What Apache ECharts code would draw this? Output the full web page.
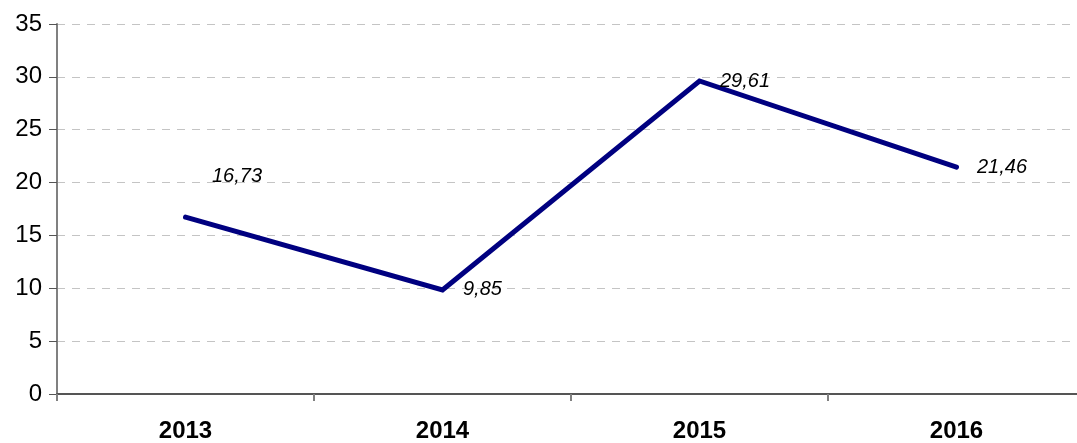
<!DOCTYPE html>
<html>
<head>
<meta charset="utf-8">
<script src="https://cdn.jsdelivr.net/npm/echarts@6/dist/echarts.min.js"></script>
<style>
  html, body { margin: 0; padding: 0; background: #fff; overflow: hidden; }
  /* plot area runs a little past the right edge of the window, as in the original */
  #chart { width: 1085px; height: 443px; }
</style>
</head>
<body>
<div id="chart"></div>
<script>
const years = ['2013', '2014', '2015', '2016']
const values = [16.73, 9.85, 29.61, 21.46]

const chart = echarts.init(document.getElementById('chart'))

const option = {
  animation: false,
  grid: {
    left: 57,
    top: 24,
    bottom: 47,
    right: 0
  },
  xAxis: {
    type: 'category',
    data: years,
    boundaryGap: true,
    axisLine: { lineStyle: { color: '#555', width: 2 } },
    axisTick: { show: true, length: 7, lineStyle: { color: '#808080', width: 2 } },
    axisLabel: {
      margin: 25,
      color: '#000',
      fontFamily: 'Liberation Sans, Arial, sans-serif',
      fontWeight: 'bold',
      fontSize: 24
    },
    splitLine: { show: false }
  },
  yAxis: {
    type: 'value',
    min: 0,
    max: 35,
    interval: 5,
    axisLine: { show: true, lineStyle: { color: '#808080', width: 2 } },
    axisTick: { show: true, length: 8, lineStyle: { color: '#555', width: 1 } },
    axisLabel: {
      margin: 15,
      color: '#000',
      fontFamily: 'Liberation Sans, Arial, sans-serif',
      fontSize: 24
    },
    splitLine: {
      show: true,
      lineStyle: { color: '#c4c4c4', type: [8, 7], width: 1 }
    }
  },
  series: [
    {
      type: 'line',
      data: values,
      symbol: 'circle',
      symbolSize: 3,
      showSymbol: true,
      itemStyle: { color: '#000080' },
      lineStyle: { color: '#000080', width: 5, cap: 'round', join: 'miter' },
      label: {
        show: true,
        position: 'right',
        distance: 19,
        color: '#000',
        fontStyle: 'italic',
        fontFamily: 'Liberation Sans, Arial, sans-serif',
        fontSize: 20,
        formatter: p => String(p.value).replace('.', ',')
      },
      // the first label sits above the line in the original
      labelLayout: p => (p.dataIndex === 0 ? { dx: 6, dy: -41 } : {})
    }
  ]
}

chart.setOption(option)
</script>
</body>
</html>
